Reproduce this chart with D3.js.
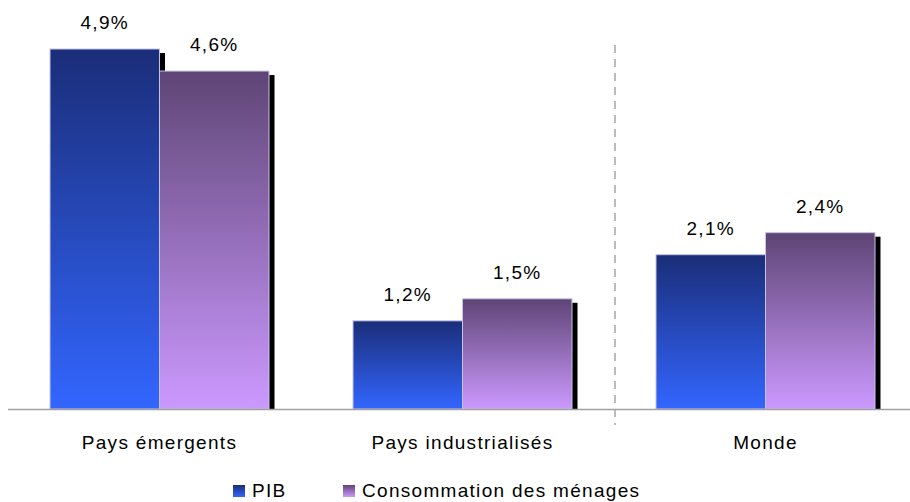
<!DOCTYPE html>
<html>
<head>
<meta charset="utf-8">
<script src="https://cdn.jsdelivr.net/npm/d3@7"></script>
<style>
  body { margin: 0; background: #fff; }
  text { font-family: "Liberation Sans", Arial, sans-serif; fill: #000; }
</style>
</head>
<body>
<div id="chart"></div>
<script>
// data
var categories = ["Pays émergents", "Pays industrialisés", "Monde"];
var series = ["PIB", "Consommation des ménages"];
var pib = [4.9, 1.2, 2.1];
var conso = [4.6, 1.5, 2.4];

var width = 910, height = 502;
var baseY = 409;

var svg = d3.select("#chart")
    .append("svg")
    .attr("width", width)
    .attr("height", height);

var defs = svg.append("defs");
var gradColors = [["#1a2d78", "#3366ff"], ["#5e4575", "#cc99ff"]];
gradColors.forEach(function(c, i) {
    var g = defs.append("linearGradient")
        .attr("id", "grad" + i)
        .attr("x1", 0).attr("y1", 0)
        .attr("x2", 0).attr("y2", 1);
    g.append("stop").attr("offset", "0%").attr("stop-color", c[0]);
    g.append("stop").attr("offset", "100%").attr("stop-color", c[1]);
});

var x = d3.scaleBand()
    .domain(categories)
    .range([8, 917]);

var xs = d3.scaleBand()
    .domain(series)
    .range([42, 261]);

var y = d3.scaleLinear()
    .domain([0, 5])
    .range([baseY, baseY - 5 * 360 / 4.9]);

var rows = [];
categories.forEach(function(c, i) {
    rows.push({cat: c, s: series[0], v: pib[i], k: 0});
    rows.push({cat: c, s: series[1], v: conso[i], k: 1});
});

// separator
svg.append("line")
    .attr("x1", x(categories[2]) + 1)
    .attr("x2", x(categories[2]) + 1)
    .attr("y1", 45)
    .attr("y2", 425)
    .attr("stroke", "#bbb")
    .attr("stroke-width", 2)
    .attr("stroke-dasharray", "8,6");

var bars = svg.append("g");

rows.forEach(function(d) {
    var bx = x(d.cat) + xs(d.s);
    var bw = xs.bandwidth();
    // shadow
    bars.append("rect")
        .attr("x", bx + bw)
        .attr("y", y(d.v) + 4)
        .attr("width", 5.5)
        .attr("height", baseY - y(d.v) - 4)
        .attr("fill", "#000");
    bars.append("rect")
        .attr("x", bx)
        .attr("y", y(d.v))
        .attr("width", bw)
        .attr("height", baseY - y(d.v))
        .attr("fill", "url(#grad" + d.k + ")")
        .attr("stroke", "#c4c4e8")
        .attr("stroke-width", 1);
    svg.append("text")
        .attr("x", bx + bw / 2)
        .attr("y", y(d.v) - 20)
        .attr("text-anchor", "middle")
        .style("font-size", "19px")
        .style("letter-spacing", "1.3px")
        .text(String(d.v.toFixed(1)).replace(".", ",") + "%");
});

// baseline
svg.append("line")
    .attr("x1", 8).attr("x2", 910)
    .attr("y1", baseY + 0.5).attr("y2", baseY + 0.5)
    .attr("stroke", "#a0a0a0")
    .attr("stroke-width", 1.5);

// category labels
svg.selectAll(".cat")
    .data(categories)
    .enter().append("text")
    .attr("class", "cat")
    .attr("x", function(d) { return x(d) + x.bandwidth() / 2; })
    .attr("y", 449)
    .attr("text-anchor", "middle")
    .style("font-size", "19px")
    .style("letter-spacing", "1.3px")
    .text(function(d) { return d; });

// legend
var legX = [233, 343];
series.forEach(function(s, i) {
    svg.append("rect")
        .attr("x", legX[i])
        .attr("y", 485)
        .attr("width", 12)
        .attr("height", 12)
        .attr("fill", "url(#grad" + i + ")");
    svg.append("text")
        .attr("x", legX[i] + 19)
        .attr("y", 497)
        .style("font-size", "19px")
        .style("letter-spacing", "1.3px")
        .text(s);
});
</script>
</body>
</html>
